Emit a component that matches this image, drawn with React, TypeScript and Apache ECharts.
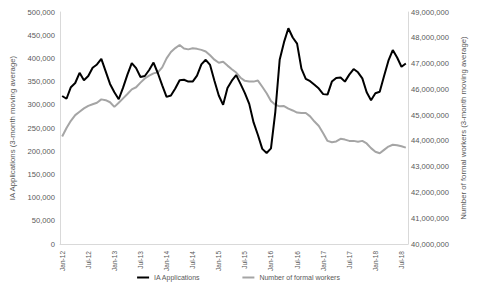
import React, { useEffect, useRef } from "react";
import * as echarts from "echarts";

const monthNames = ["Jan", "Feb", "Mar", "Apr", "May", "Jun", "Jul", "Aug", "Sep", "Oct", "Nov", "Dec"];
const startYear = 2012;
const monthCount = 80; // Jan-12 .. Aug-18
const categories: string[] = [];
for (let i = 0; i < monthCount; i++) {
  const y = startYear + Math.floor(i / 12);
  categories.push(`${monthNames[i % 12]}-${String(y).slice(2)}`);
}

// IA Applications (3-month moving average), thousands
const iaApplications = [
  319, 313, 338, 347, 369, 353, 362, 380, 387, 399,
  372, 345, 327, 312, 337, 365, 390, 379, 360, 362,
  375, 391, 368, 342, 317, 320, 335, 353, 354, 350,
  350, 363, 387, 397, 386, 352, 320, 300, 336, 352,
  364, 345, 325, 302, 262, 235, 205, 196, 206, 285,
  397, 435, 465, 445, 432, 378, 356, 351, 343, 335,
  323, 322, 350, 358, 359, 350, 365, 377, 370, 357,
  327, 310, 325, 328, 362, 395, 418, 402, 382, 389,
].map((v) => v * 1000);

// Number of formal workers (3-month moving average), millions
const formalWorkers = [
  44.17, 44.5, 44.78, 45.0, 45.13, 45.26, 45.36, 45.42, 45.48, 45.61,
  45.58, 45.5, 45.32, 45.48, 45.65, 45.82, 46.0, 46.08, 46.26, 46.42,
  46.53, 46.62, 46.66, 46.85, 47.2, 47.45, 47.6, 47.72, 47.58, 47.55,
  47.59, 47.57, 47.53, 47.47, 47.32, 47.15, 47.03, 47.07, 46.92, 46.78,
  46.65, 46.45, 46.33, 46.3, 46.3, 46.34, 46.1, 45.85, 45.55, 45.4,
  45.34, 45.35, 45.25, 45.18, 45.1, 45.08, 45.08, 44.95, 44.75, 44.58,
  44.3, 44.0, 43.95, 43.98, 44.08, 44.05, 44.0, 44.0, 43.97, 44.0,
  43.9, 43.72, 43.58, 43.52, 43.65, 43.78, 43.85, 43.83, 43.79, 43.74,
].map((v) => Math.round(v * 1000000));

const leftName = "IA Applications (3-month moving average)";
const rightName = "Number of formal workers (3-month moving average)";

const FONT = "'Liberation Sans', Arial, sans-serif";
const NARROW = "'Liberation Sans Narrow', 'Arial Narrow', 'Liberation Sans', sans-serif";
const TEXT = "#595959";
const AXIS = "#d9d9d9";

const fmt = (v: number) => v.toLocaleString("en-US");

export default function App() {
  const ref = useRef<HTMLDivElement>(null);
  useEffect(() => {
    if (!ref.current) return;
    const chart = echarts.init(ref.current, undefined, { renderer: "svg" });
    chart.setOption({
      animation: false,
      textStyle: { fontFamily: FONT },
      grid: { left: 59, right: 69, top: 12, bottom: 44, containLabel: false },
      legend: {
        bottom: 2,
        left: "center",
        itemGap: 42,
        itemWidth: 12,
        itemHeight: 2,
        icon: "rect",
        textStyle: { fontSize: 7, color: TEXT, fontFamily: FONT },
        data: ["IA Applications", "Number of formal workers"],
      },
      xAxis: {
        type: "category",
        data: categories,
        boundaryGap: true,
        axisLine: { show: true, lineStyle: { color: AXIS, width: 1 } },
        axisTick: { show: false },
        axisLabel: {
          interval: 5,
          rotate: 90,
          margin: 7,
          fontSize: 6.5,
          color: TEXT,
          fontFamily: NARROW,
        },
        splitLine: { show: false },
      },
      yAxis: [
        {
          type: "value",
          min: 0,
          max: 500000,
          interval: 50000,
          name: leftName,
          nameLocation: "middle",
          nameRotate: 90,
          nameGap: 44,
          nameTextStyle: { fontSize: 7.8, color: TEXT, fontFamily: FONT },
          axisLine: { show: true, lineStyle: { color: AXIS, width: 1 } },
          axisTick: { show: false },
          axisLabel: { formatter: fmt, fontSize: 7.6, color: TEXT, margin: 5 },
          splitLine: { show: false },
        },
        {
          type: "value",
          min: 40000000,
          max: 49000000,
          interval: 1000000,
          name: rightName,
          nameLocation: "middle",
          nameRotate: 90,
          nameGap: 51,
          nameTextStyle: { fontSize: 7.8, color: TEXT, fontFamily: FONT },
          axisLine: { show: true, lineStyle: { color: AXIS, width: 1 } },
          axisTick: { show: false },
          axisLabel: { formatter: fmt, fontSize: 7.6, color: TEXT, margin: 3 },
          splitLine: { show: false },
        },
      ],
      series: [
        {
          name: "IA Applications",
          type: "line",
          yAxisIndex: 0,
          data: iaApplications,
          showSymbol: false,
          symbol: "none",
          lineStyle: { color: "#000000", width: 2 },
          itemStyle: { color: "#000000" },
          z: 3,
        },
        {
          name: "Number of formal workers",
          type: "line",
          yAxisIndex: 1,
          data: formalWorkers,
          showSymbol: false,
          symbol: "none",
          lineStyle: { color: "#a5a5a5", width: 2 },
          itemStyle: { color: "#a5a5a5" },
          z: 2,
        },
      ],
    });
    return () => chart.dispose();
  }, []);
  return <div ref={ref} style={{ width: 477, height: 288, position: "absolute", left: 0, top: 0 }} />;
}
